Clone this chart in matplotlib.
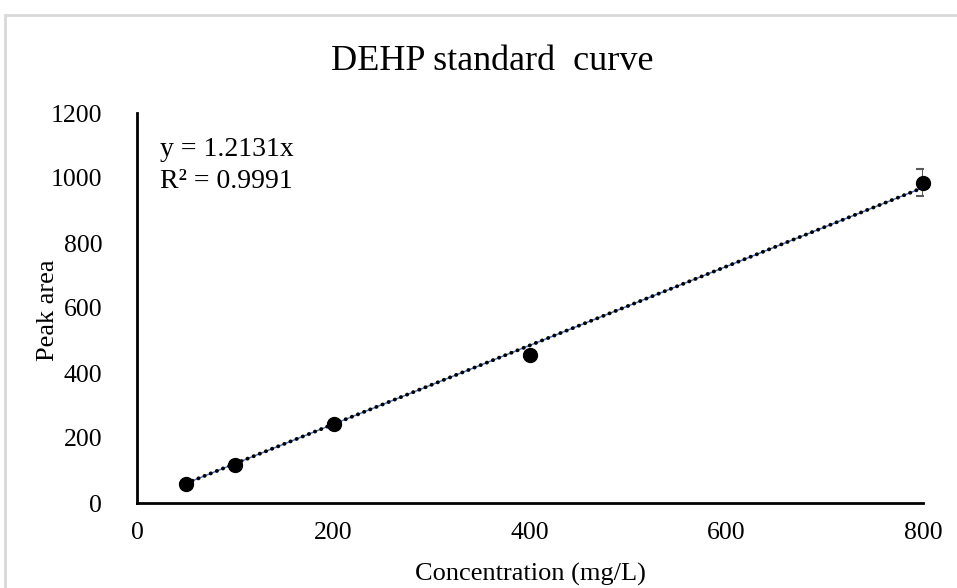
import matplotlib
matplotlib.use("Agg")
import matplotlib.pyplot as plt
from matplotlib.patches import Rectangle
import numpy as np

# Calibration data for DEHP
concentration = [50, 100, 200, 400, 800]          # mg/L
peak_area = [60, 116, 243, 455, 986]
peak_err = [3, 3, 4, 5, 42]
slope = 1.2131
r_squared = 0.9991

x_ticks = [0, 200, 400, 600, 800]
y_ticks = [0, 200, 400, 600, 800, 1000, 1200]

plt.rcParams["font.family"] = ["Liberation Serif", "DejaVu Serif"]

fig = plt.figure(figsize=(9.57, 5.88), dpi=100)
ax = fig.add_axes([137 / 957, 1 - 503 / 588, (923 - 137) / 957, (503 - 113) / 588])

# chart frame
fig.patches.append(Rectangle((5 / 957, -0.05), 1.1, 1 - 15 / 588 + 0.05,
                             transform=fig.transFigure, fill=False,
                             edgecolor="#d9d9d9", linewidth=2, zorder=0))

# linear trendline through origin
xs = np.array([concentration[0], concentration[-1]], dtype=float)
ax.plot(xs, slope * xs, color="#4472C4", lw=1.0, zorder=2)
ax.plot(xs, slope * xs, color="black", lw=2.8, linestyle=(0, (0.05, 1.65)),
        dash_capstyle="round", zorder=3)

# error bars (clipped at the plot area) and markers
eb = ax.errorbar(concentration, peak_area, yerr=peak_err, fmt="none",
                 ecolor="#595959", elinewidth=1.5, capsize=5, capthick=1.5,
                 zorder=4)
for artist in eb.lines[1] + eb.lines[2]:
    artist.set_clip_on(True)
ax.plot(concentration, peak_area, "o", color="black", ms=10, zorder=5,
        clip_on=False)

ax.set_xlim(0, 800)
ax.set_ylim(0, 1200)
ax.set_xticks(x_ticks)
ax.set_yticks(y_ticks)
ax.tick_params(axis="both", length=0, labelsize=18.5)
ax.tick_params(axis="y", pad=25)
ax.tick_params(axis="x", pad=14)
for s in ["top", "right"]:
    ax.spines[s].set_visible(False)
for s in ["left", "bottom"]:
    ax.spines[s].set_linewidth(2)

fig.text(492 / 957, 1 - 62 / 588, "DEHP standard  curve", fontsize=26,
         ha="center", va="center")
fig.text(530 / 957, 1 - 574 / 588, "Concentration (mg/L)", fontsize=19,
         ha="center", va="center")
fig.text(48 / 957, 1 - 310 / 588, "Peak area", fontsize=19, rotation=90,
         ha="center", va="center")

fig.text(160 / 957, 1 - 150 / 588, f"y = {slope:.4f}x", fontsize=20,
         ha="left", va="center")
fig.text(160 / 957, 1 - 182 / 588, f"R\u00b2 = {r_squared:.4f}", fontsize=20,
         ha="left", va="center")

fig.savefig("out.png", dpi=100, facecolor="white")
